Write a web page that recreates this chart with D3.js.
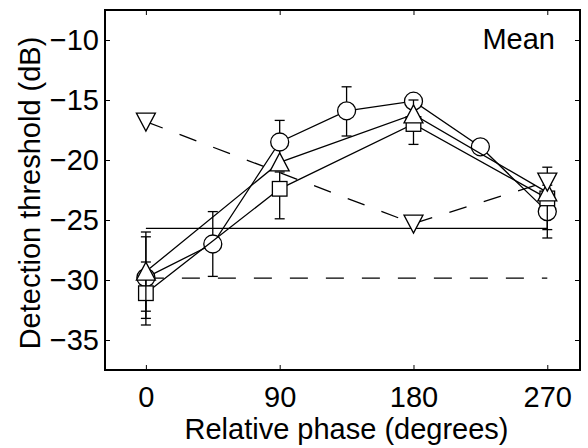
<!DOCTYPE html>
<html>
<head>
<meta charset="utf-8">
<script src="https://cdn.jsdelivr.net/npm/d3@7/dist/d3.min.js"></script>
<style>
  html, body { margin: 0; padding: 0; background: #fff; }
  svg text { font-family: "Liberation Sans", Arial, sans-serif; fill: #000; }
</style>
</head>
<body>
<svg id="chart" width="588" height="448"></svg>
<script>
// Relative phase (degrees) for each condition
const phasesFine = [0, 45, 90, 135, 180, 225, 270];
const phasesCoarse = [0, 90, 180, 270];
const phasesSparse = [0, 180, 270];

// Mean detection thresholds (dB)
const circleVals = [-29.8, -27.0, -18.5, -15.9, -15.1, -18.9, -24.3];
const triangleVals = [-29.3, -20.2, -16.2, -22.7];
const squareVals = [-31.1, -22.4, -17.0, -23.2];
const downTriVals = [-16.8, -25.3, -21.8];

// Error bar extents [upper, lower] (dB); null where none is drawn
const circleErr = [[-26.4, -33.2], [-24.3, -29.7], [-16.7, -20.3], [-13.9, -18.0], null, null, [-22.1, -26.5]];
const triangleErr = [[-26.0, -32.6], null, null, null];
const squareErr = [[-28.5, -33.75], [-21.0, -24.9], [-15.0, -18.7], [-20.6, -25.8]];

// Reference levels drawn across the phase range
const refSolid = -25.7;
const refDashed = -29.85;
const refRange = [0, 270];

const xTicks = [0, 90, 180, 270];
const yTicks = [-35, -30, -25, -20, -15, -10];

const svg = d3.select("#chart");
const plot = { left: 105, right: 580, top: 10, bottom: 370 };
const x = d3.scaleLinear().domain([-27.5, 292]).range([plot.left, plot.right]);
const y = d3.scaleLinear().domain([-37.5, -7.5]).range([plot.bottom, plot.top]);

const fontSize = 29;
const lw = 1.3;
const dash = "18,18";

// Axes with inward ticks on all four sides
const tickLen = 5;
svg.append("g").attr("transform", `translate(0,${plot.bottom})`)
  .call(d3.axisBottom(x).tickValues(xTicks).tickSizeInner(-tickLen).tickSizeOuter(0).tickPadding(16.4))
  .call(g => g.select(".domain").remove())
  .call(g => g.selectAll("line").attr("stroke", "#000").attr("stroke-width", 1))
  .call(g => g.selectAll("text").attr("font-size", fontSize).attr("font-family", "Liberation Sans, Arial, sans-serif"));
svg.append("g").attr("transform", `translate(0,${plot.top})`)
  .call(d3.axisTop(x).tickValues(xTicks).tickSizeInner(-tickLen).tickSizeOuter(0).tickFormat(""))
  .call(g => g.select(".domain").remove())
  .call(g => g.selectAll("line").attr("stroke", "#000").attr("stroke-width", 1));
svg.append("g").attr("transform", `translate(${plot.left},0)`)
  .call(d3.axisLeft(y).tickValues(yTicks).tickSizeInner(-tickLen).tickSizeOuter(0).tickPadding(6)
    .tickFormat(d => d3.format("d")(d).replace("-", "\u2212")))
  .call(g => g.select(".domain").remove())
  .call(g => g.selectAll("line").attr("stroke", "#000").attr("stroke-width", 1))
  .call(g => g.selectAll("text").attr("font-size", fontSize).attr("font-family", "Liberation Sans, Arial, sans-serif"));
svg.append("g").attr("transform", `translate(${plot.right},0)`)
  .call(d3.axisRight(y).tickValues(yTicks).tickSizeInner(-tickLen).tickSizeOuter(0).tickFormat(""))
  .call(g => g.select(".domain").remove())
  .call(g => g.selectAll("line").attr("stroke", "#000").attr("stroke-width", 1));

svg.append("rect")
  .attr("x", plot.left).attr("y", plot.top)
  .attr("width", plot.right - plot.left).attr("height", plot.bottom - plot.top)
  .attr("fill", "none").attr("stroke", "#000").attr("stroke-width", 2);

// Axis titles
svg.append("text")
  .attr("x", (plot.left + plot.right) / 2 + 4).attr("y", 439)
  .attr("text-anchor", "middle").attr("font-size", fontSize)
  .text("Relative phase (degrees)");
svg.append("text")
  .attr("transform", `translate(40,${(plot.top + plot.bottom) / 2 + 3}) rotate(-90)`)
  .attr("text-anchor", "middle").attr("font-size", fontSize)
  .text("Detection threshold (dB)");

// Panel label
svg.append("text")
  .attr("x", 555).attr("y", 49).attr("text-anchor", "end").attr("font-size", fontSize)
  .text("Mean");

const g = svg.append("g");
const line = d3.line().x(d => x(d[0])).y(d => y(d[1]));

// Reference lines
g.append("path").datum(refRange.map(p => [p, refSolid]))
  .attr("d", line).attr("fill", "none").attr("stroke", "#000").attr("stroke-width", lw);
g.append("path").datum(refRange.map(p => [p, refDashed]))
  .attr("d", line).attr("fill", "none").attr("stroke", "#000").attr("stroke-width", lw)
  .attr("stroke-dasharray", dash);

// Marker shapes
const R = 9;
const markers = {
  circle: (s, px, py) => s.append("circle").attr("cx", px).attr("cy", py).attr("r", R),
  square: (s, px, py) => s.append("rect").attr("x", px - 7.3).attr("y", py - 7.3).attr("width", 14.6).attr("height", 14.6),
  up: (s, px, py) => s.append("path").attr("d", `M${px},${py - 9.5}L${px + 9.5},${py + 8.5}L${px - 9.5},${py + 8.5}Z`),
  down: (s, px, py) => s.append("path").attr("d", `M${px},${py + 9.5}L${px + 9.5},${py - 8.5}L${px - 9.5},${py - 8.5}Z`)
};

function drawSeries(xs, ys, errs, shape, dashed) {
  const sg = g.append("g");
  sg.append("path").datum(xs.map((p, i) => [p, ys[i]]))
    .attr("d", line).attr("fill", "none").attr("stroke", "#000").attr("stroke-width", lw)
    .attr("stroke-dasharray", dashed ? dash : null);
  if (errs) {
    errs.forEach((e, i) => {
      if (!e) return;
      const px = x(xs[i]);
      sg.append("line").attr("x1", px).attr("x2", px).attr("y1", y(e[0])).attr("y2", y(e[1]))
        .attr("stroke", "#000").attr("stroke-width", lw);
      e.forEach(v => sg.append("line").attr("x1", px - 5).attr("x2", px + 5).attr("y1", y(v)).attr("y2", y(v))
        .attr("stroke", "#000").attr("stroke-width", lw));
    });
  }
  xs.forEach((p, i) => {
    markers[shape](sg, x(p), y(ys[i]))
      .attr("fill", "#fff").attr("stroke", "#000").attr("stroke-width", lw);
  });
}

drawSeries(phasesFine, circleVals, circleErr, "circle", false);
drawSeries(phasesCoarse, squareVals, squareErr, "square", false);
drawSeries(phasesCoarse, triangleVals, triangleErr, "up", false);
drawSeries(phasesSparse, downTriVals, null, "down", true);
</script>
</body>
</html>
